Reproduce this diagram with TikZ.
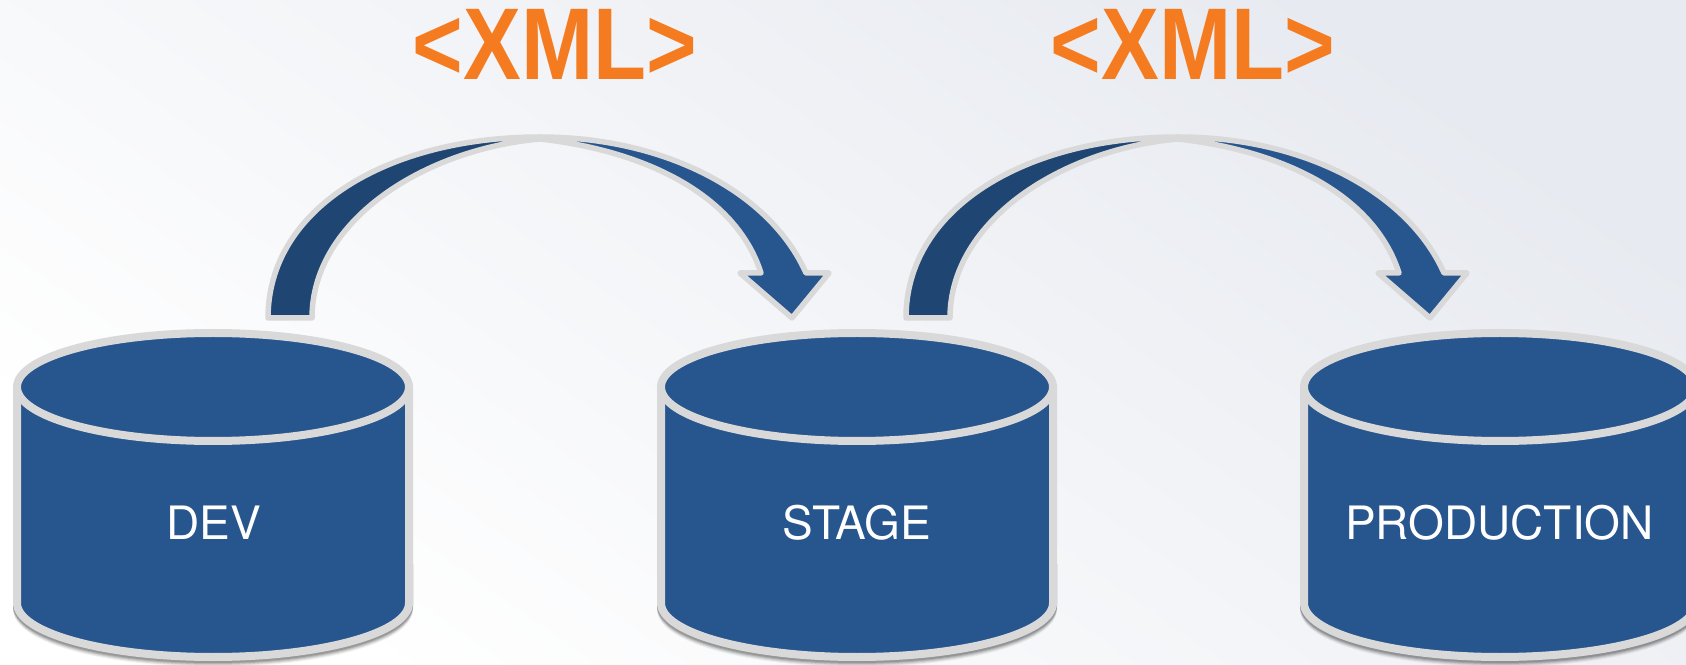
\documentclass[tikz,border=0pt]{standalone}
\usepackage{fontspec}
\setmainfont{TeX Gyre Heros}
\newfontfamily\xmlfont{Liberation Sans}
\definecolor{dbblue}{HTML}{27558E}
\definecolor{arrowdark}{HTML}{1F4672}
\definecolor{rimgrey}{HTML}{D9D9D9}
\definecolor{xmlorange}{HTML}{F57B20}
\definecolor{bgtop}{HTML}{E7EAF0}
\definecolor{bgmid}{HTML}{F2F4F7}
\newcommand{\curvedarrowpath}{(268,346) .. controls (268,456) and (388,527) .. (540,527)
  .. controls (665,527) and (770,472) .. (806,391)
  -- (829,391) -- (792,346) -- (740,391) -- (761,391)
  .. controls (735,472) and (640,514) .. (540,525)
  .. controls (425,515) and (312,444) .. (312,346) -- cycle}
\newcommand{\xmltext}{\fontsize{102}{102}\xmlfont\bfseries\scalebox{0.85}[1]{<XML>}}
\tikzset{
  x=1pt,y=1pt,
  rim/.style={draw=rimgrey,line width=8pt,line join=round},
  dblabel/.style={text=white,font=\fontsize{46}{46}\selectfont,anchor=base,inner sep=0pt},
  xmllabel/.style={text=xmlorange,anchor=base,inner sep=0pt},
  arrowrim/.style={draw=rimgrey,line width=5.5pt,line join=round},
  pics/database/.style={code={
    \foreach \s/\o in {6/.05,5/.07,4/.09,3/.12,2/.14}{
      \draw[black,opacity=\o,line width=8pt] (-196,100) -- (-196,61-\s) arc[start angle=180,end angle=360,x radius=196,y radius=54] -- (196,100);
    }
    \draw[rim,fill=dbblue] (-196,277) -- (-196,61) arc[start angle=180,end angle=360,x radius=196,y radius=54] -- (196,277) -- cycle;
    \draw[rim,fill=dbblue] (0,277) ellipse[x radius=196,y radius=54];
  }},
  pics/bentarrow/.style={code={
    \fill[dbblue] \curvedarrowpath;
    \begin{scope}
      \clip (200,300) rectangle (540,560);
      \fill[arrowdark] \curvedarrowpath;
    \end{scope}
    \draw[arrowrim] \curvedarrowpath;
  }}
}
\begin{document}
\begin{tikzpicture}
\clip (0,0) rectangle (1686,664);
\useasboundingbox (0,0) rectangle (1686,664);
\shade[bottom color=white,middle color=bgmid,top color=bgtop,shading angle=-35] (0,0) rectangle (1686,664);
\path (213,0) pic {database};
\path (857,0) pic {database};
\path (1500,0) pic {database};
\path (0,0) pic {bentarrow};
\path (638,0) pic {bentarrow};
\node[dblabel] (dev) at (213.5,124) {DEV};
\node[dblabel] (stage) at (857,124) {STAGE};
\node[dblabel] (prod) at (1499.5,124) {PRODUCTION};
\node[xmllabel] (xmla) at (555,584) {\xmltext};
\node[xmllabel] (xmlb) at (1193,584) {\xmltext};
\end{tikzpicture}
\end{document}
